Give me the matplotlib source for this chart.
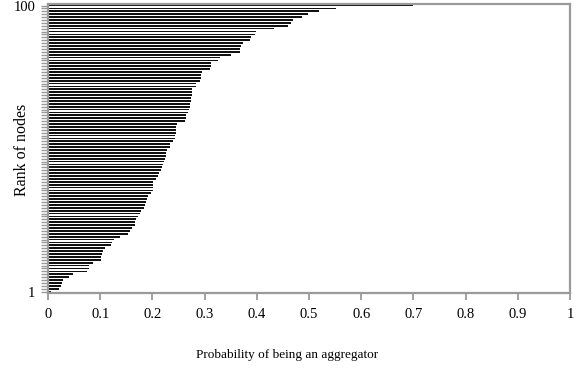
import numpy as np
import matplotlib.pyplot as plt

plt.rcParams['font.family'] = ['Liberation Serif', 'DejaVu Serif']

# probability per node, ranked from 1 (lowest) to 100 (highest)
prob = [0.006, 0.022, 0.025, 0.027, 0.029, 0.041, 0.048, 0.074, 0.078, 0.078,
        0.086, 0.101, 0.102, 0.104, 0.106, 0.110, 0.121, 0.122, 0.126, 0.138,
        0.154, 0.157, 0.160, 0.167, 0.167, 0.169, 0.172, 0.176, 0.179, 0.184,
        0.186, 0.188, 0.190, 0.191, 0.197, 0.201, 0.201, 0.201, 0.202, 0.206,
        0.210, 0.213, 0.216, 0.218, 0.221, 0.222, 0.224, 0.226, 0.227, 0.228,
        0.233, 0.234, 0.239, 0.243, 0.244, 0.245, 0.245, 0.246, 0.247, 0.263,
        0.264, 0.264, 0.268, 0.270, 0.272, 0.272, 0.273, 0.274, 0.275, 0.276,
        0.276, 0.283, 0.283, 0.292, 0.293, 0.294, 0.295, 0.311, 0.312, 0.313,
        0.326, 0.329, 0.351, 0.367, 0.368, 0.370, 0.373, 0.387, 0.389, 0.397,
        0.398, 0.433, 0.459, 0.466, 0.470, 0.486, 0.498, 0.520, 0.552, 0.700]
ranks = np.arange(1, len(prob) + 1)
xticks = [0, 0.1, 0.2, 0.3, 0.4, 0.5, 0.6, 0.7, 0.8, 0.9, 1]
xtick_labels = ['0', '0.1', '0.2', '0.3', '0.4', '0.5', '0.6', '0.7', '0.8', '0.9', '1']

fig = plt.figure(figsize=(5.86, 3.70), dpi=100)
ax = fig.add_axes([0.0819, 0.208, 0.8908, 0.781])

ax.barh(ranks, prob, height=0.6, color='#111111', linewidth=0)

ax.set_xlim(0, 1)
ax.set_ylim(0.5, 100.5)

gray = '#9a9a9a'
for sp in ax.spines.values():
    sp.set_color(gray)
    sp.set_linewidth(1.6)

ax.set_xticks(xticks)
ax.set_xticklabels(xtick_labels, fontsize=10.5)
ax.tick_params(axis='x', direction='out', length=5, width=1.3, color=gray, pad=6)

# one tick per node, only the first and last labelled
ax.set_yticks(ranks, minor=True)
ax.set_yticks([1, 100])
ax.set_yticklabels(['1', '100'], fontsize=10.5)
ax.tick_params(axis='y', which='both', direction='out', length=5, width=1.0,
               color=gray, pad=4)

fig.text(0.49, 0.04, 'Probability of being an aggregator', ha='center',
         va='center', fontsize=9.5)
fig.text(0.038, 0.595, 'Rank of nodes', rotation=90, ha='center',
         va='center', fontsize=11.5)

fig.savefig('out.png', dpi=100)
